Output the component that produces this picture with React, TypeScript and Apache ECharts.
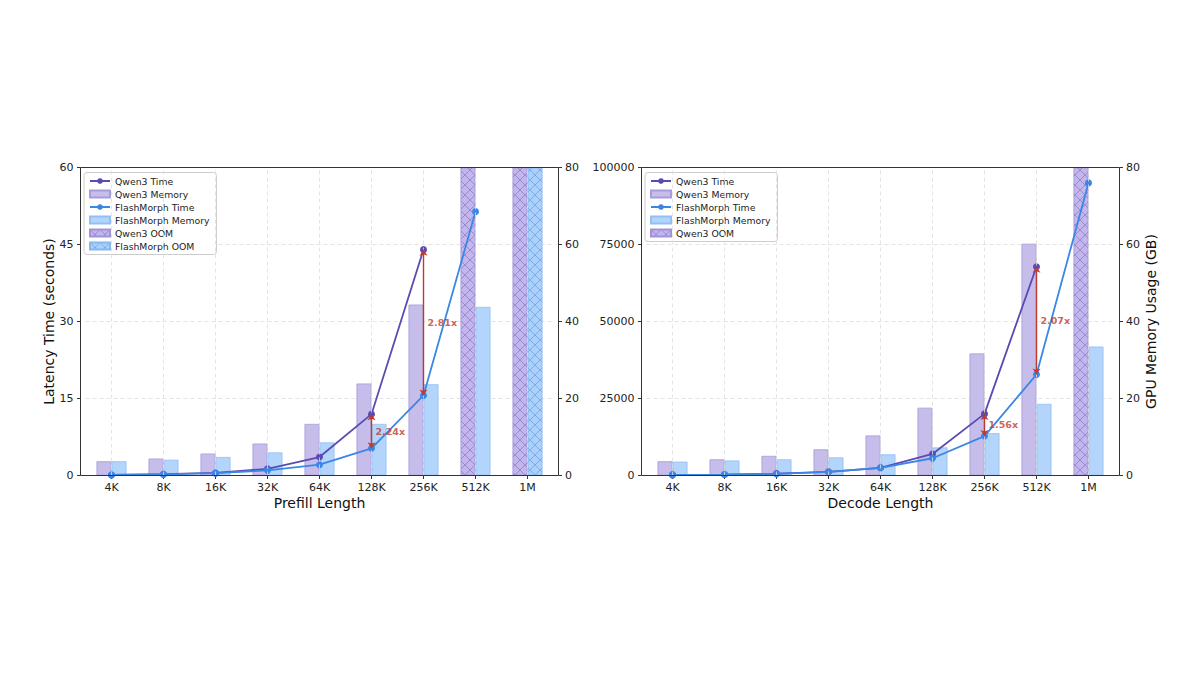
import React, { useEffect, useRef } from 'react';
import * as echarts from 'echarts';

// ---------- data ----------
const categories = ['4K', '8K', '16K', '32K', '64K', '128K', '256K', '512K', '1M'];

// Prefill panel (latency in seconds, memory in GB)
const prefillQwenTime = [0.1, 0.25, 0.5, 1.3, 3.6, 11.95, 44.0, '-', '-'];
const prefillFlashTime = [0.1, 0.2, 0.45, 1.0, 2.1, 5.3, 15.6, 51.4, '-'];
const prefillQwenMem = [3.7, 4.4, 5.7, 8.3, 13.4, 23.9, 44.4, '-', '-'];
const prefillFlashMem = [3.7, 4.1, 4.8, 6.0, 8.6, 13.4, 23.7, 43.8, '-'];
const prefillQwenOOM = ['-', '-', '-', '-', '-', '-', '-', 80, 80];
const prefillFlashOOM = ['-', '-', '-', '-', '-', '-', '-', '-', 80];
const prefillSpeedupCats = ['128K', '256K'];
const prefillSpeedupLabels = ['2.24x', '2.81x'];

// Decode panel
const decodeQwenTime = [200, 300, 600, 1200, 2500, 7000, 20000, 67800, '-'];
const decodeFlashTime = [200, 300, 550, 1200, 2500, 5600, 12800, 32800, 95000];
const decodeQwenMem = [3.7, 4.2, 5.1, 6.8, 10.4, 17.6, 31.7, 60.2, '-'];
const decodeFlashMem = [3.6, 3.9, 4.2, 4.7, 5.5, 7.3, 11.0, 18.6, 33.5];
const decodeQwenOOM = ['-', '-', '-', '-', '-', '-', '-', '-', 80];
const decodeSpeedupCats = ['256K', '512K'];
const decodeSpeedupLabels = ['1.56x', '2.07x'];

const leftTicksPrefill = { max: 60, interval: 15 };
const leftTicksDecode = { max: 100000, interval: 25000 };
const memTicks = { max: 80, interval: 20 };

// ---------- styles ----------
const FONT = 'DejaVu Sans';
const PURPLE = '#5a4bb2';
const BLUE = '#3a87e6';
const PURPLE_BAR = '#c6bdea';
const PURPLE_EDGE = '#a89cdb';
const BLUE_BAR = '#b3d4fb';
const BLUE_EDGE = '#92c0f4';
const RED = '#bf3a2c';
const GRIDC = '#dddddd';

function hatch(bg: string, line: string) {
  const c = document.createElement('canvas');
  c.width = 10;
  c.height = 10;
  const g = c.getContext('2d')!;
  g.fillStyle = bg;
  g.fillRect(0, 0, 10, 10);
  g.strokeStyle = line;
  g.lineWidth = 0.8;
  g.beginPath();
  g.moveTo(-1, -1);
  g.lineTo(11, 11);
  g.moveTo(11, -1);
  g.lineTo(-1, 11);
  g.stroke();
  return c;
}

export default function App() {
  const ref = useRef<HTMLDivElement>(null);

  useEffect(() => {
    document.body.style.margin = '0';
    const chart = echarts.init(ref.current!, null, { renderer: 'svg' });

    const qOOMColor: any = { image: hatch('#c2b6ea', '#8f7dd0'), repeat: 'repeat' };
    const fOOMColor: any = { image: hatch('#acd0f9', '#6aa6ea'), repeat: 'repeat' };

    const panels = [
      {
        gridLeft: 85.5,
        xName: 'Prefill Length',
        leftName: 'Latency Time (seconds)',
        rightName: '',
        leftTicks: leftTicksPrefill,
        qt: prefillQwenTime,
        ft: prefillFlashTime,
        qm: prefillQwenMem,
        fm: prefillFlashMem,
        qo: prefillQwenOOM,
        fo: prefillFlashOOM as any[] | null,
        spCats: prefillSpeedupCats,
        spLabels: prefillSpeedupLabels,
      },
      {
        gridLeft: 646.5,
        xName: 'Decode Length',
        leftName: '',
        rightName: 'GPU Memory Usage (GB)',
        leftTicks: leftTicksDecode,
        qt: decodeQwenTime,
        ft: decodeFlashTime,
        qm: decodeQwenMem,
        fm: decodeFlashMem,
        qo: decodeQwenOOM,
        fo: null as any[] | null,
        spCats: decodeSpeedupCats,
        spLabels: decodeSpeedupLabels,
      },
    ];

    const GRID_TOP = 167.5;
    const GRID_H = 308;
    const GRID_W = 468;

    const grids: any[] = [];
    const xAxes: any[] = [];
    const yAxes: any[] = [];
    const series: any[] = [];
    const legends: any[] = [];
    const graphics: any[] = [];

    const tickLabel = { fontSize: 11, color: '#222', fontFamily: FONT };
    const nameStyle = { fontSize: 14, color: '#111', fontFamily: FONT };

    panels.forEach((p, i) => {
      grids.push({ left: p.gridLeft, top: GRID_TOP, width: GRID_W, height: GRID_H });
      xAxes.push({
        type: 'category',
        gridIndex: i,
        data: categories,
        axisLine: { show: false },
        axisTick: { show: true, alignWithLabel: true, length: 3.5, lineStyle: { color: '#333' } },
        axisLabel: { ...tickLabel, margin: 6 },
        splitLine: { show: false },
        name: p.xName,
        nameLocation: 'middle',
        nameGap: 20,
        nameTextStyle: nameStyle,
      });
      yAxes.push({
        type: 'value',
        gridIndex: i,
        position: 'left',
        offset: 5,
        min: 0,
        max: p.leftTicks.max,
        interval: p.leftTicks.interval,
        axisLine: { show: false },
        axisTick: { show: true, length: 3.5, lineStyle: { color: '#333' } },
        axisLabel: { ...tickLabel, margin: 7, formatter: (v: number) => String(v) },
        splitLine: { show: true, lineStyle: { color: GRIDC, type: [4, 3], width: 0.8 } },
        name: p.leftName,
        nameLocation: 'middle',
        nameRotate: 90,
        nameGap: 22,
        nameTextStyle: nameStyle,
      });
      yAxes.push({
        type: 'value',
        gridIndex: i,
        position: 'right',
        offset: 5,
        min: 0,
        max: memTicks.max,
        interval: memTicks.interval,
        axisLine: { show: false },
        axisTick: { show: true, length: 3.5, lineStyle: { color: '#333' } },
        axisLabel: { ...tickLabel, margin: 6.5, formatter: (v: number) => String(v) },
        splitLine: { show: false },
        name: p.rightName,
        nameLocation: 'middle',
        nameRotate: 90,
        nameGap: 22,
        nameTextStyle: nameStyle,
      });

      const yT = i * 2;
      const yM = i * 2 + 1;

      // vertical dashed grid lines at category centres
      series.push({
        type: 'line',
        name: 'vgrid' + i,
        xAxisIndex: i,
        yAxisIndex: yT,
        data: categories.map(() => '-'),
        z: 1,
        silent: true,
        markLine: {
          silent: true,
          symbol: 'none',
          label: { show: false },
          lineStyle: { color: GRIDC, type: [4, 3], width: 0.8 },
          data: categories.map((c) => ({ xAxis: c })),
        },
      });

      const barCommon = {
        type: 'bar',
        xAxisIndex: i,
        yAxisIndex: yM,
        barWidth: 15,
        barGap: '0%',
        z: 2,
      };
      series.push({
        ...barCommon,
        name: 'Qwen3 Memory',
        stack: 'q' + i,
        data: p.qm,
        itemStyle: { color: PURPLE_BAR, borderColor: PURPLE_EDGE, borderWidth: 0.8 },
      });
      series.push({
        ...barCommon,
        name: 'FlashMorph Memory',
        stack: 'f' + i,
        data: p.fm,
        itemStyle: { color: BLUE_BAR, borderColor: BLUE_EDGE, borderWidth: 0.8 },
      });
      series.push({
        ...barCommon,
        name: 'Qwen3 OOM',
        stack: 'q' + i,
        data: p.qo,
        itemStyle: { color: qOOMColor, borderColor: '#a094d9', borderWidth: 0.8 },
      });
      if (p.fo) {
        series.push({
          ...barCommon,
          name: 'FlashMorph OOM',
          stack: 'f' + i,
          data: p.fo,
          itemStyle: { color: fOOMColor, borderColor: '#86b8f0', borderWidth: 0.8 },
        });
      }

      const lineCommon = {
        type: 'line',
        xAxisIndex: i,
        yAxisIndex: yT,
        symbol: 'circle',
        symbolSize: 7,
        z: 3,
      };
      series.push({
        ...lineCommon,
        name: 'Qwen3 Time',
        data: p.qt,
        itemStyle: { color: PURPLE },
        lineStyle: { color: PURPLE, width: 1.8 },
      });
      series.push({
        ...lineCommon,
        name: 'FlashMorph Time',
        data: p.ft,
        itemStyle: { color: BLUE },
        lineStyle: { color: BLUE, width: 1.8 },
      });

      // speed-up annotations
      const spData = p.spCats.map((c, k) => {
        const idx = categories.indexOf(c);
        const q = p.qt[idx] as number;
        const f = p.ft[idx] as number;
        return { value: [c, (q + f) / 2], label: { formatter: p.spLabels[k] } };
      });
      const arrows = p.spCats.map((c) => {
        const idx = categories.indexOf(c);
        return [{ coord: [c, p.ft[idx] as number] }, { coord: [c, p.qt[idx] as number] }];
      });
      series.push({
        type: 'scatter',
        name: 'speedup' + i,
        xAxisIndex: i,
        yAxisIndex: yT,
        symbolSize: 0,
        z: 5,
        silent: true,
        data: spData,
        label: {
          show: true,
          position: 'right',
          distance: 4,
          color: RED,
          fontWeight: 'bold',
          fontSize: 9.5,
          fontFamily: FONT,
        },
        markLine: {
          silent: true,
          symbol: ['arrow', 'arrow'],
          symbolSize: 6,
          label: { show: false },
          lineStyle: { color: RED, type: 'solid', width: 1.4 },
          data: arrows,
        },
      });

      const legendData: any[] = [
        { name: 'Qwen3 Time' },
        { name: 'Qwen3 Memory', icon: 'rect' },
        { name: 'FlashMorph Time' },
        { name: 'FlashMorph Memory', icon: 'rect' },
        { name: 'Qwen3 OOM', icon: 'rect' },
      ];
      if (p.fo) legendData.push({ name: 'FlashMorph OOM', icon: 'rect' });
      legends.push({
        orient: 'vertical',
        left: p.gridLeft - 5 + 3.5,
        top: GRID_TOP + 5,
        itemWidth: 20,
        itemHeight: 7,
        itemGap: 4,
        padding: [4, 7, 4, 5],
        backgroundColor: 'rgba(255,255,255,0.85)',
        borderColor: '#cccccc',
        borderWidth: 1,
        borderRadius: 3,
        selectedMode: false,
        textStyle: { fontSize: 9.3, color: '#222', fontFamily: FONT },
        data: legendData,
      });

      graphics.push({
        type: 'rect',
        silent: true,
        z: 100,
        shape: { x: p.gridLeft - 5, y: GRID_TOP, width: GRID_W + 10, height: GRID_H },
        style: { fill: 'none', stroke: '#333', lineWidth: 1 },
      });
    });

    chart.setOption({
      animation: false,
      backgroundColor: '#ffffff',
      textStyle: { fontFamily: FONT },
      grid: grids,
      xAxis: xAxes,
      yAxis: yAxes,
      legend: legends,
      series,
      graphic: graphics,
    });

    return () => chart.dispose();
  }, []);

  return <div ref={ref} style={{ width: 1200, height: 675 }} />;
}
